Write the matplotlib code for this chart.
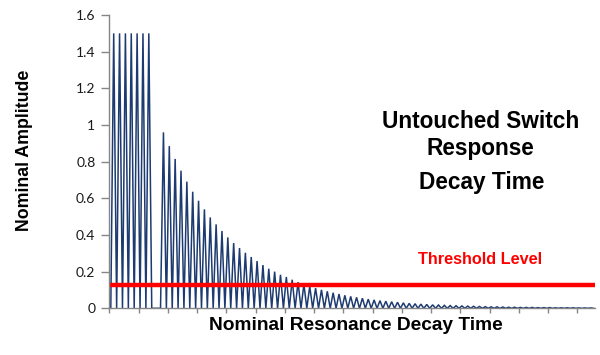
import matplotlib
matplotlib.use("Agg")
import matplotlib.pyplot as plt
import numpy as np

# Sampled response, one value per category on the x axis.
burst_peaks = [1.5, 1.5, 1.5, 1.5, 1.5, 1.5, 1.5]
gap_zeros = 3
decay_peaks = [
    0.960, 0.885, 0.815, 0.751, 0.691, 0.636, 0.587, 0.540, 0.496, 0.458,
    0.422, 0.387, 0.356, 0.329, 0.303, 0.280, 0.258, 0.236, 0.216, 0.200,
    0.183, 0.171, 0.156, 0.143, 0.131, 0.120, 0.110, 0.101, 0.093, 0.085,
    0.078, 0.071, 0.065, 0.060, 0.055, 0.050, 0.046, 0.042, 0.039, 0.036,
    0.033, 0.030, 0.027, 0.025, 0.023, 0.021, 0.019, 0.018, 0.016, 0.015,
    0.014, 0.013, 0.012, 0.011, 0.010, 0.009, 0.008, 0.008, 0.007, 0.006,
    0.006, 0.005, 0.005, 0.005, 0.004, 0.004, 0.004, 0.003, 0.003, 0.003,
    0.003, 0.002, 0.002, 0.002,
]
threshold = 0.128
y_ticks = [0, 0.2, 0.4, 0.6, 0.8, 1, 1.2, 1.4, 1.6]
y_tick_labels = ["0", "0.2", "0.4", "0.6", "0.8", "1", "1.2", "1.4", "1.6"]

series = [0.0]
for p in burst_peaks:
    series += [p, 0.0]
series += [0.0] * gap_zeros
for p in decay_peaks:
    series += [p, 0.0]
series = np.array(series)
n = series.size
x = np.arange(n) + 0.5  # categories sit between tick marks

axis_grey = "#868686"
line_blue = "#1d3b70"
bold_font = "Liberation Sans"

fig = plt.figure(figsize=(6.0, 3.55), dpi=100)
ax = fig.add_axes([0.1822, 0.1315, 0.9917 - 0.1822, 0.9577 - 0.1315])

ax.plot(x, series, color=line_blue, linewidth=1.1, solid_joinstyle="miter")
ax.plot([0, n], [threshold, threshold], color="#ff0000", linewidth=3.2,
        solid_capstyle="butt")

ax.set_xlim(0, n)
ax.set_ylim(0, 1.6)
ax.set_xticks(np.arange(0, n, 10))
ax.set_xticklabels([])
ax.set_yticks(y_ticks)
ax.set_yticklabels(y_tick_labels, fontfamily="Lato", fontsize=10)

for side in ["top", "right"]:
    ax.spines[side].set_visible(False)
for side in ["left", "bottom"]:
    ax.spines[side].set_color(axis_grey)
    ax.spines[side].set_linewidth(1.0)
ax.tick_params(axis="y", direction="out", length=5.5, width=1.0,
               color=axis_grey, pad=4.5, labelcolor="#1a1a1a")
ax.tick_params(axis="x", direction="out", length=3.6, width=1.0,
               color=axis_grey)

fig.text(355.5 / 600, 1 - 326 / 355, "Nominal Resonance Decay Time",
         ha="center", va="center", fontsize=13.8, fontweight="bold",
         fontfamily=bold_font)
fig.text(25 / 600, 1 - 150 / 355, "Nominal Amplitude", rotation=90,
         ha="center", va="center", fontsize=12.8, fontweight="bold",
         fontfamily=bold_font)

fig.text(481 / 600, 1 - 122 / 355, "Untouched Switch", ha="center",
         va="center", fontsize=16.3, fontweight="bold", fontfamily=bold_font)
fig.text(480 / 600, 1 - 148 / 355, "Response", ha="center",
         va="center", fontsize=16.3, fontweight="bold", fontfamily=bold_font)
fig.text(481.5 / 600, 1 - 182 / 355, "Decay Time", ha="center",
         va="center", fontsize=16.3, fontweight="bold", fontfamily=bold_font)
fig.text(480 / 600, 1 - 259.5 / 355, "Threshold Level", ha="center",
         va="center", fontsize=11.7, fontweight="bold", color="#ff0000",
         fontfamily=bold_font)

fig.savefig("out.png", dpi=100)
